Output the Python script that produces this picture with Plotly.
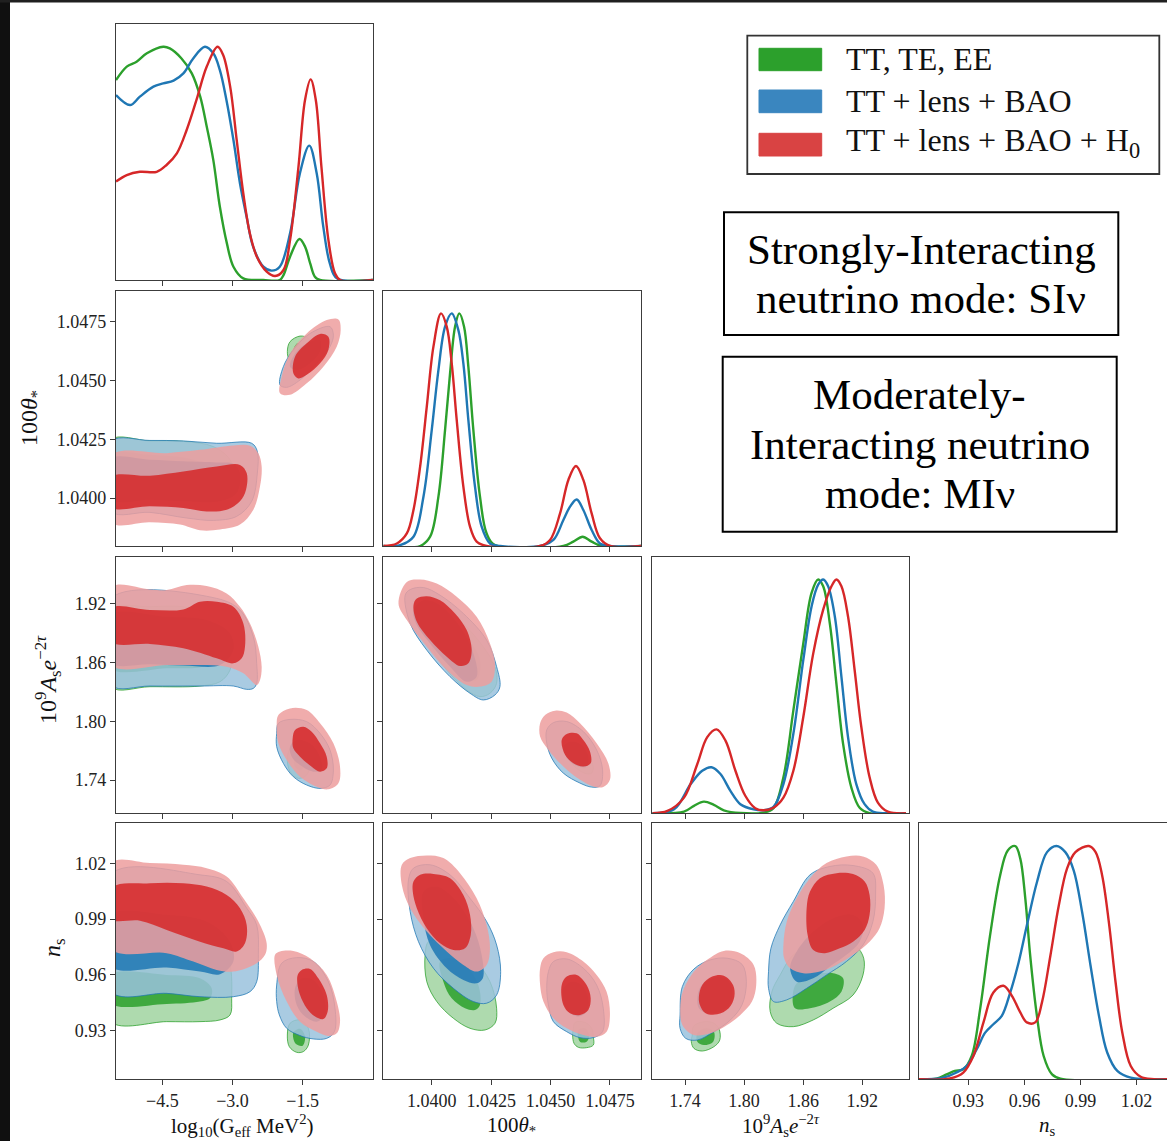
import plotly.graph_objects as go

W, H = 1167, 1141
SERIF = "Liberation Serif, Times New Roman, serif"
FRAME = "#3c3c3c"

SERIES_NAMES = ["TT, TE, EE", "TT + lens + BAO", "TT + lens + BAO + H<sub>0</sub>"]
SERIES_RGB = [(44, 160, 44), (31, 119, 180), (214, 39, 40)]
LEGEND_PATCH = ["#2ca02c", "#3a86bf", "#d94343"]
OUTLINE_W = [0.9, 0.9, 0.0]
PARAM_ORDER = ["G", "theta", "As", "ns"]

TICKS = {
    "G": ([-4.5, -3.0, -1.5], ["−4.5", "−3.0", "−1.5"]),
    "theta": ([1.04, 1.0425, 1.045, 1.0475], ["1.0400", "1.0425", "1.0450", "1.0475"]),
    "As": ([1.74, 1.80, 1.86, 1.92], ["1.74", "1.80", "1.86", "1.92"]),
    "ns": ([0.93, 0.96, 0.99, 1.02], ["0.93", "0.96", "0.99", "1.02"]),
}
AXIS_TITLES = {
    "G": "log<sub>10</sub>(G<sub>eff</sub> MeV<sup>2</sup>)",
    "theta": "100<i>θ</i><sub>*</sub>",
    "As": "10<sup>9</sup><i>A</i><sub>s</sub><i>e</i><sup>−2<i>τ</i></sup>",
    "ns": "<i>n</i><sub>s</sub>",
}

# ---------------- 1D marginal posteriors (normalised to peak = 1) ----------------
G_GREEN_X = [-5.49, -5.26, -5.05, -4.83, -4.48, -4.34, -4.09, -3.87, -3.69, -3.55, -3.41, -3.27, -3.12, -2.98, -2.77, -2.34, -1.99, -1.91, -1.77, -1.57, -1.45, -1.34, -1.24, -1.13, 0.0]
G_GREEN_Y = [0.857, 0.915, 0.936, 0.972, 1.0, 0.993, 0.95, 0.886, 0.786, 0.657, 0.514, 0.314, 0.157, 0.057, 0.007, 0.0, 0.0, 0.021, 0.1, 0.176, 0.143, 0.071, 0.014, 0.0, 0.0]
G_BLUE_X = [-5.49, -5.19, -4.98, -4.69, -4.48, -4.26, -4.05, -3.84, -3.59, -3.41, -3.27, -3.13, -2.98, -2.84, -2.70, -2.56, -2.34, -2.16, -1.99, -1.77, -1.56, -1.36, -1.20, -1.06, -0.92, -0.77, 0.0]
G_BLUE_Y = [0.793, 0.75, 0.786, 0.829, 0.843, 0.855, 0.886, 0.95, 1.0, 0.972, 0.9, 0.772, 0.6, 0.414, 0.272, 0.143, 0.057, 0.04, 0.057, 0.2, 0.457, 0.576, 0.457, 0.229, 0.071, 0.007, 0.0]
G_RED_X = [-5.49, -5.26, -4.98, -4.62, -4.41, -4.19, -3.98, -3.77, -3.55, -3.32, -3.20, -3.05, -2.91, -2.77, -2.63, -2.48, -2.27, -2.09, -1.91, -1.77, -1.59, -1.45, -1.33, -1.22, -1.10, -0.95, -0.81, -0.70, 0.0]
G_RED_Y = [0.422, 0.45, 0.464, 0.464, 0.493, 0.543, 0.643, 0.772, 0.915, 1.0, 0.965, 0.829, 0.6, 0.372, 0.2, 0.1, 0.036, 0.017, 0.043, 0.171, 0.486, 0.772, 0.86, 0.772, 0.486, 0.171, 0.029, 0.0, 0.0]

TH_RED_X = [1.03796, 1.03853, 1.03895, 1.03923, 1.03951, 1.03979, 1.04007, 1.04039, 1.04063, 1.04084, 1.04105, 1.04133, 1.04161, 1.04189, 1.04231, 1.04456, 1.04498, 1.04540, 1.04575, 1.04607, 1.04638, 1.04673, 1.04708, 1.04750, 1.04882]
TH_RED_Y = [0, 0.011, 0.054, 0.155, 0.341, 0.599, 0.857, 1.0, 0.943, 0.785, 0.542, 0.255, 0.083, 0.019, 0, 0, 0.026, 0.14, 0.284, 0.344, 0.284, 0.14, 0.033, 0, 0]
TH_BLUE_X = [1.03796, 1.03867, 1.03923, 1.03965, 1.04000, 1.04028, 1.04056, 1.04084, 1.04112, 1.04133, 1.04154, 1.04182, 1.04210, 1.04245, 1.04288, 1.04456, 1.04512, 1.04554, 1.04582, 1.04610, 1.04638, 1.04673, 1.04708, 1.04750, 1.04882]
TH_BLUE_Y = [0, 0.004, 0.04, 0.212, 0.499, 0.756, 0.943, 1.0, 0.928, 0.785, 0.542, 0.255, 0.083, 0.011, 0, 0, 0.026, 0.112, 0.169, 0.2, 0.155, 0.069, 0.011, 0, 0]
TH_GREEN_X = [1.03796, 1.03951, 1.03993, 1.04028, 1.04056, 1.04077, 1.04098, 1.04116, 1.04136, 1.04154, 1.04175, 1.04203, 1.04231, 1.04266, 1.04554, 1.04596, 1.04635, 1.04673, 1.04715, 1.04882]
TH_GREEN_Y = [0, 0, 0.04, 0.212, 0.499, 0.742, 0.943, 1.0, 0.943, 0.771, 0.499, 0.212, 0.054, 0.004, 0, 0.019, 0.04, 0.019, 0, 0]

AS_RED_X = [1.7071, 1.7222, 1.739, 1.7525, 1.7626, 1.772, 1.7811, 1.7912, 1.8012, 1.8113, 1.8197, 1.8298, 1.8399, 1.85, 1.8601, 1.8702, 1.8803, 1.8887, 1.8937, 1.8988, 1.9055, 1.9122, 1.919, 1.9274, 1.9358, 1.9459, 1.9644]
AS_RED_Y = [0, 0.01, 0.067, 0.211, 0.326, 0.359, 0.311, 0.182, 0.075, 0.022, 0.013, 0.024, 0.067, 0.182, 0.412, 0.684, 0.871, 0.971, 1.0, 0.971, 0.842, 0.613, 0.369, 0.154, 0.046, 0.007, 0]
AS_BLUE_X = [1.7071, 1.7289, 1.7458, 1.7575, 1.7669, 1.776, 1.7861, 1.7962, 1.8097, 1.8197, 1.8298, 1.8399, 1.85, 1.8601, 1.8685, 1.8752, 1.8803, 1.8853, 1.8921, 1.8988, 1.9055, 1.9139, 1.9223, 1.9307, 1.9442, 1.9644]
AS_BLUE_Y = [0, 0.017, 0.125, 0.182, 0.197, 0.168, 0.096, 0.039, 0.017, 0.013, 0.027, 0.125, 0.34, 0.656, 0.885, 0.978, 1.0, 0.971, 0.842, 0.584, 0.326, 0.125, 0.039, 0.007, 0, 0]
AS_GREEN_X = [1.7071, 1.739, 1.7491, 1.7592, 1.7693, 1.7794, 1.7962, 1.8197, 1.8298, 1.8399, 1.85, 1.8601, 1.8685, 1.8752, 1.8803, 1.887, 1.8937, 1.9005, 1.9089, 1.9173, 1.9274, 1.9644]
AS_GREEN_Y = [0, 0.007, 0.032, 0.05, 0.036, 0.013, 0.001, 0.003, 0.022, 0.154, 0.44, 0.727, 0.943, 1.0, 0.971, 0.813, 0.555, 0.297, 0.11, 0.024, 0.001, 0]

NS_GREEN_X = [0.9035, 0.913, 0.9184, 0.9228, 0.9273, 0.9318, 0.9363, 0.9416, 0.947, 0.9511, 0.9551, 0.9578, 0.9605, 0.9631, 0.9667, 0.9703, 0.9748, 0.9793, 1.0366]
NS_GREEN_Y = [0, 0.003, 0.021, 0.036, 0.043, 0.1, 0.301, 0.616, 0.874, 0.981, 1.0, 0.946, 0.774, 0.53, 0.272, 0.1, 0.021, 0.003, 0]
NS_BLUE_X = [0.9035, 0.9166, 0.9237, 0.9291, 0.9345, 0.939, 0.9434, 0.9479, 0.9524, 0.9569, 0.9613, 0.9667, 0.9721, 0.9771, 0.9819, 0.9864, 0.9909, 0.9954, 0.9999, 1.0043, 1.0097, 1.0169, 1.0366]
NS_BLUE_Y = [0, 0.007, 0.029, 0.057, 0.129, 0.2, 0.236, 0.272, 0.372, 0.501, 0.659, 0.845, 0.974, 1.0, 0.974, 0.895, 0.716, 0.487, 0.272, 0.115, 0.036, 0.007, 0]
NS_RED_X = [0.9035, 0.9202, 0.9273, 0.9327, 0.9381, 0.9434, 0.9488, 0.9533, 0.9578, 0.9613, 0.9658, 0.9694, 0.9739, 0.9784, 0.9828, 0.9873, 0.9945, 0.9981, 1.0016, 1.0052, 1.0088, 1.0124, 1.0169, 1.0222, 1.0294, 1.0366]
NS_RED_Y = [0, 0.004, 0.029, 0.1, 0.244, 0.372, 0.401, 0.358, 0.287, 0.244, 0.244, 0.33, 0.53, 0.745, 0.903, 0.974, 1.0, 0.974, 0.874, 0.673, 0.415, 0.2, 0.057, 0.011, 0.001, 0]

# ---------------- 2D contours (68% / 95%), each a list of islands of (x, y) ----------------
# theta (y) vs G (x)
TG_GREEN_95 = [
    [(-5.6, 1.04248), (-4.764, 1.04243), (-4.051, 1.04241), (-3.41, 1.04219), (-3.053, 1.04163), (-2.982, 1.04106), (-3.125, 1.04035), (-3.41, 1.04), (-3.98, 1.03993), (-4.764, 1.03993), (-5.6, 1.04)],
    [(-1.828, 1.04623), (-1.771, 1.04665), (-1.557, 1.04689), (-1.379, 1.04679), (-1.329, 1.04644), (-1.414, 1.04594), (-1.628, 1.04566), (-1.785, 1.04587)],
]
TG_GREEN_68 = [
    [(-5.6, 1.04184), (-4.764, 1.04184), (-3.837, 1.04163), (-3.41, 1.0412), (-3.481, 1.0405), (-4.051, 1.04021), (-4.764, 1.04021), (-5.6, 1.04021)],
    [(-1.7, 1.0463), (-1.6, 1.0466), (-1.5, 1.0464), (-1.5, 1.046), (-1.6, 1.0459)],
]
TG_BLUE_95 = [
    [(-5.6, 1.04241), (-4.764, 1.04245), (-4.051, 1.04243), (-3.338, 1.04233), (-2.59, 1.04233), (-2.469, 1.04198), (-2.469, 1.04106), (-2.59, 1.03986), (-2.911, 1.03922), (-3.41, 1.03905), (-3.98, 1.03915), (-4.764, 1.03939), (-5.6, 1.03943)],
    [(-1.985, 1.04481), (-1.913, 1.04559), (-1.70, 1.0463), (-1.343, 1.047), (-0.916, 1.04729), (-0.844, 1.04693), (-0.916, 1.04644), (-1.201, 1.04573), (-1.557, 1.04502), (-1.842, 1.04471)],
]
TG_BLUE_68 = [
    [(-5.6, 1.04166), (-4.764, 1.04163), (-4.051, 1.04156), (-3.338, 1.04151), (-2.982, 1.04146), (-2.84, 1.04106), (-2.911, 1.04021), (-3.267, 1.03986), (-4.051, 1.03986), (-4.764, 1.03993), (-5.6, 1.03993)],
    [(-1.771, 1.04559), (-1.628, 1.04623), (-1.343, 1.04665), (-1.129, 1.04672), (-1.129, 1.04623), (-1.343, 1.04573), (-1.593, 1.04545)],
]
TG_RED_95 = [
    [(-5.6, 1.04181), (-4.407, 1.04191), (-3.695, 1.04205), (-2.982, 1.04224), (-2.626, 1.04222), (-2.448, 1.04191), (-2.377, 1.04134), (-2.412, 1.0405), (-2.555, 1.0395), (-2.84, 1.03887), (-3.267, 1.03866), (-3.695, 1.03863), (-4.122, 1.03887), (-4.764, 1.03897), (-5.6, 1.03897)],
    [(-1.985, 1.04446), (-1.949, 1.04516), (-1.771, 1.04615), (-1.414, 1.047), (-0.987, 1.04757), (-0.737, 1.0476), (-0.688, 1.04715), (-0.773, 1.04644), (-1.058, 1.04559), (-1.414, 1.04488), (-1.771, 1.04439)],
]
TG_RED_68 = [
    [(-5.6, 1.04089), (-4.764, 1.04095), (-4.051, 1.04113), (-3.338, 1.04134), (-2.84, 1.04141), (-2.697, 1.04106), (-2.711, 1.04035), (-2.84, 1.03986), (-3.125, 1.0395), (-3.552, 1.03943), (-4.051, 1.03958), (-4.764, 1.03965), (-5.6, 1.03962)],
    [(-1.70, 1.04531), (-1.664, 1.04601), (-1.414, 1.04658), (-1.129, 1.04698), (-0.951, 1.04686), (-0.951, 1.0463), (-1.129, 1.04573), (-1.414, 1.04524), (-1.593, 1.04509)],
]

# As (y) vs G (x)
AG_GREEN_95 = [
    [(-5.6, 1.914), (-4.764, 1.9167), (-4.051, 1.9167), (-3.552, 1.9099), (-3.196, 1.8963), (-3.018, 1.8726), (-3.053, 1.8522), (-3.267, 1.8403), (-3.695, 1.8359), (-4.764, 1.8352), (-5.6, 1.8352)],
    [(-1.828, 1.7639), (-1.735, 1.7741), (-1.557, 1.7768), (-1.379, 1.7707), (-1.343, 1.7571), (-1.414, 1.7452), (-1.593, 1.7418), (-1.771, 1.7486)],
]
AG_GREEN_68 = [
    [(-5.6, 1.8963), (-4.407, 1.8963), (-3.552, 1.8895), (-3.338, 1.8726), (-3.552, 1.8573), (-4.407, 1.8539), (-5.6, 1.8539)],
    [(-1.65, 1.765), (-1.5, 1.768), (-1.43, 1.758), (-1.55, 1.75), (-1.68, 1.755)],
]
AG_BLUE_95 = [
    [(-5.6, 1.9252), (-3.338, 1.9252), (-2.84, 1.9133), (-2.555, 1.8861), (-2.483, 1.859), (-2.483, 1.8386), (-2.555, 1.8335), (-2.697, 1.8325), (-2.982, 1.8359), (-3.695, 1.8359), (-4.764, 1.8359), (-5.6, 1.8369)],
    [(-2.056, 1.7877), (-2.02, 1.7979), (-1.771, 1.8019), (-1.414, 1.7996), (-1.129, 1.7877), (-0.916, 1.7707), (-0.844, 1.7503), (-0.916, 1.735), (-1.129, 1.7316), (-1.414, 1.735), (-1.70, 1.7435), (-1.913, 1.7571), (-2.056, 1.7741)],
]
AG_BLUE_68 = [
    [(-5.6, 1.9082), (-4.407, 1.9065), (-3.552, 1.9031), (-3.053, 1.8895), (-2.982, 1.8726), (-3.267, 1.8573), (-4.051, 1.8569), (-4.764, 1.858), (-5.6, 1.8597)],
    [(-1.771, 1.7741), (-1.628, 1.7809), (-1.343, 1.7775), (-1.129, 1.7639), (-1.094, 1.7503), (-1.272, 1.7486), (-1.557, 1.7554), (-1.735, 1.7639)],
]
AG_RED_95 = [
    [(-5.6, 1.9364), (-4.764, 1.9344), (-4.407, 1.9337), (-3.98, 1.9388), (-3.552, 1.9378), (-3.125, 1.9303), (-2.84, 1.9167), (-2.626, 1.8997), (-2.448, 1.876), (-2.377, 1.8556), (-2.412, 1.842), (-2.483, 1.8369), (-2.768, 1.8488), (-3.125, 1.8556), (-3.695, 1.8573), (-4.407, 1.8573), (-5.6, 1.8573)],
    [(-2.056, 1.7962), (-2.02, 1.8063), (-1.771, 1.8131), (-1.414, 1.8114), (-1.129, 1.7979), (-0.844, 1.7775), (-0.702, 1.7537), (-0.737, 1.7367), (-0.951, 1.7306), (-1.201, 1.7333), (-1.557, 1.7435), (-1.842, 1.7605), (-2.02, 1.7775)],
]
AG_RED_68 = [
    [(-5.6, 1.915), (-4.764, 1.9133), (-4.051, 1.914), (-3.695, 1.9218), (-3.338, 1.9218), (-2.982, 1.9167), (-2.768, 1.8997), (-2.733, 1.876), (-2.804, 1.8641), (-2.982, 1.859), (-3.338, 1.8641), (-4.051, 1.8743), (-4.764, 1.8787), (-5.6, 1.8811)],
    [(-1.714, 1.7826), (-1.664, 1.7911), (-1.486, 1.7945), (-1.308, 1.7894), (-1.129, 1.7775), (-0.987, 1.7639), (-0.987, 1.752), (-1.129, 1.7486), (-1.308, 1.7537), (-1.557, 1.7639), (-1.70, 1.7724)],
]

# ns (y) vs G (x)
NG_GREEN_95 = [
    [(-5.6, 0.9758), (-4.407, 0.9758), (-3.695, 0.9752), (-3.196, 0.9726), (-3.053, 0.9654), (-3.018, 0.9474), (-3.053, 0.9385), (-3.267, 0.9358), (-3.695, 0.9349), (-4.407, 0.9349), (-5.6, 0.9349)],
    [(-1.828, 0.9277), (-1.771, 0.934), (-1.557, 0.9358), (-1.379, 0.9313), (-1.379, 0.9223), (-1.486, 0.9188), (-1.628, 0.9184), (-1.785, 0.9214)],
]
NG_GREEN_68 = [
    [(-5.6, 0.96), (-4.407, 0.96), (-3.695, 0.9582), (-3.445, 0.9528), (-3.481, 0.9474), (-3.695, 0.9457), (-4.407, 0.9444), (-5.6, 0.9448)],
    [(-1.7, 0.929), (-1.55, 0.931), (-1.45, 0.927), (-1.5, 0.922), (-1.65, 0.923)],
]
NG_BLUE_95 = [
    [(-5.6, 1.0142), (-3.695, 1.0138), (-3.125, 1.0102), (-2.697, 0.9959), (-2.483, 0.9869), (-2.448, 0.9708), (-2.483, 0.9564), (-2.626, 0.951), (-2.982, 0.9483), (-3.695, 0.9483), (-4.407, 0.9501), (-5.6, 0.951)],
    [(-2.056, 0.9546), (-1.949, 0.9663), (-1.628, 0.9693), (-1.272, 0.9672), (-0.951, 0.9564), (-0.809, 0.9421), (-0.823, 0.9295), (-0.987, 0.9259), (-1.272, 0.9256), (-1.557, 0.9274), (-1.842, 0.9313), (-1.999, 0.9385), (-2.056, 0.9457)],
]
NG_BLUE_68 = [
    [(-5.6, 0.9923), (-4.407, 0.9923), (-3.552, 0.9887), (-3.053, 0.9779), (-2.982, 0.9672), (-3.267, 0.9604), (-3.695, 0.9618), (-4.407, 0.964), (-5.6, 0.9645)],
    [(-1.664, 0.9528), (-1.521, 0.9582), (-1.272, 0.9573), (-1.058, 0.9492), (-1.023, 0.9385), (-1.201, 0.9349), (-1.45, 0.9376), (-1.628, 0.9439)],
]
NG_RED_95 = [
    [(-5.6, 1.0201), (-4.764, 1.0201), (-4.051, 1.0192), (-3.552, 1.0174), (-3.125, 1.0129), (-2.768, 1.0012), (-2.448, 0.9887), (-2.27, 0.977), (-2.305, 0.9708), (-2.483, 0.9663), (-2.982, 0.9618), (-3.338, 0.9627), (-3.837, 0.9672), (-4.407, 0.9717), (-5.6, 0.974)],
    [(-2.091, 0.9708), (-1.985, 0.9726), (-1.70, 0.9729), (-1.343, 0.969), (-0.987, 0.96), (-0.773, 0.9457), (-0.702, 0.9349), (-0.773, 0.9286), (-0.951, 0.9272), (-1.201, 0.9295), (-1.557, 0.9349), (-1.842, 0.9457), (-2.056, 0.96)],
]
NG_RED_68 = [
    [(-5.6, 1.0066), (-4.764, 1.0093), (-4.051, 1.0093), (-3.552, 1.0075), (-3.125, 1.003), (-2.84, 0.9959), (-2.697, 0.9869), (-2.733, 0.977), (-2.911, 0.9726), (-3.196, 0.9743), (-3.695, 0.9779), (-4.407, 0.9842), (-4.977, 0.9891), (-5.6, 0.9901)],
    [(-1.607, 0.96), (-1.521, 0.9627), (-1.343, 0.9632), (-1.165, 0.9582), (-0.987, 0.9492), (-0.966, 0.9403), (-1.058, 0.9363), (-1.236, 0.9376), (-1.414, 0.9421), (-1.557, 0.9492), (-1.614, 0.9555)],
]

# As (y) vs theta (x)
AT_GREEN_95 = [
    [(1.03979, 1.9132), (1.03993, 1.9217), (1.04049, 1.9183), (1.04133, 1.8997), (1.04217, 1.8759), (1.04266, 1.8556), (1.04273, 1.8386), (1.04245, 1.8285), (1.04203, 1.8251), (1.04147, 1.8319), (1.04063, 1.8522), (1.04007, 1.8725), (1.03979, 1.8963)],
    [(1.04582, 1.7641), (1.04596, 1.7715), (1.04631, 1.7725), (1.04659, 1.7641), (1.0468, 1.7539), (1.04673, 1.7471), (1.04652, 1.7464), (1.04617, 1.7505), (1.04589, 1.7573)],
]
AT_GREEN_68 = [
    [(1.04007, 1.9064), (1.04063, 1.9064), (1.04147, 1.8861), (1.04203, 1.8624), (1.04189, 1.842), (1.04133, 1.8454), (1.04063, 1.8658), (1.04014, 1.8861)],
    [(1.04603, 1.7641), (1.04631, 1.7658), (1.04652, 1.759), (1.04645, 1.7522), (1.04617, 1.7539)],
]
AT_BLUE_95 = [
    [(1.03888, 1.9285), (1.03909, 1.9342), (1.03965, 1.9363), (1.04035, 1.9285), (1.04133, 1.9098), (1.04231, 1.8827), (1.04273, 1.8556), (1.04287, 1.8353), (1.04266, 1.8268), (1.04217, 1.8217), (1.04161, 1.8285), (1.04077, 1.8454), (1.03979, 1.8725), (1.03909, 1.8997)],
    [(1.04484, 1.7912), (1.04512, 1.7986), (1.04568, 1.7997), (1.04638, 1.7895), (1.04694, 1.7708), (1.04719, 1.7505), (1.04708, 1.7342), (1.04673, 1.7329), (1.04624, 1.737), (1.04554, 1.7471), (1.04505, 1.7624), (1.04484, 1.7776)],
]
AT_BLUE_68 = [
    [(1.03923, 1.9132), (1.03965, 1.9234), (1.04035, 1.9183), (1.04119, 1.8963), (1.04175, 1.8692), (1.04189, 1.8454), (1.04147, 1.8403), (1.04077, 1.8556), (1.03993, 1.8793), (1.03937, 1.898)],
    [(1.04554, 1.7742), (1.04589, 1.7793), (1.04631, 1.7759), (1.04659, 1.7641), (1.04652, 1.7539), (1.04617, 1.7539), (1.04575, 1.7607)],
]
AT_RED_95 = [
    [(1.0386, 1.92), (1.03895, 1.942), (1.03951, 1.9444), (1.04021, 1.9403), (1.04105, 1.9268), (1.04189, 1.9064), (1.04245, 1.8793), (1.04266, 1.859), (1.04252, 1.8403), (1.04203, 1.8353), (1.04147, 1.8369), (1.04063, 1.8522), (1.03979, 1.8759), (1.03895, 1.9031)],
    [(1.04456, 1.798), (1.04477, 1.8064), (1.04519, 1.8108), (1.04568, 1.8088), (1.04624, 1.798), (1.04694, 1.7776), (1.04743, 1.7573), (1.0475, 1.7403), (1.04722, 1.7329), (1.0468, 1.7336), (1.04624, 1.7403), (1.04554, 1.7539), (1.04491, 1.7708), (1.04456, 1.7844)],
]
AT_RED_68 = [
    [(1.03923, 1.9183), (1.03937, 1.9251), (1.03979, 1.9275), (1.04035, 1.9234), (1.04098, 1.9098), (1.04147, 1.8929), (1.04168, 1.8725), (1.04154, 1.859), (1.04119, 1.8563), (1.04063, 1.8658), (1.03993, 1.8827), (1.03937, 1.9014)],
    [(1.04547, 1.781), (1.04568, 1.7871), (1.0461, 1.7878), (1.04638, 1.781), (1.04666, 1.7691), (1.04669, 1.7573), (1.04638, 1.7539), (1.04596, 1.7573), (1.04561, 1.7658)],
]

# ns (y) vs theta (x)
NT_GREEN_95 = [
    [(1.03972, 0.9708), (1.03986, 0.9779), (1.04035, 0.9788), (1.04105, 0.9752), (1.04175, 0.969), (1.04245, 0.9564), (1.04273, 0.9421), (1.04266, 0.934), (1.04224, 0.9304), (1.04161, 0.9313), (1.04091, 0.9367), (1.04021, 0.9457), (1.03979, 0.9564)],
    [(1.04596, 0.9313), (1.04603, 0.9345), (1.04645, 0.9345), (1.04673, 0.9313), (1.0468, 0.9268), (1.0468, 0.9223), (1.04652, 0.9209), (1.04617, 0.9211), (1.04599, 0.9232), (1.04593, 0.9277)],
]
NT_GREEN_68 = [
    [(1.04035, 0.9672), (1.04084, 0.969), (1.04147, 0.9645), (1.04196, 0.9546), (1.04203, 0.9439), (1.04182, 0.9412), (1.0414, 0.9421), (1.04084, 0.9474), (1.04049, 0.9564)],
    [(1.04617, 0.9304), (1.04645, 0.9313), (1.04663, 0.9277), (1.04652, 0.9241), (1.04624, 0.9241)],
]
NT_BLUE_95 = [
    [(1.03902, 1.0111), (1.03923, 1.0174), (1.03993, 1.0192), (1.04077, 1.0138), (1.04161, 1.0012), (1.04231, 0.9887), (1.04273, 0.9761), (1.0429, 0.9618), (1.04273, 0.9492), (1.04231, 0.9448), (1.04175, 0.9457), (1.04091, 0.9528), (1.04007, 0.9636), (1.03944, 0.9779), (1.03909, 0.9941)],
    [(1.04491, 0.9618), (1.04512, 0.9672), (1.04568, 0.9686), (1.04638, 0.9636), (1.04694, 0.9546), (1.04722, 0.9421), (1.04719, 0.9295), (1.0468, 0.9263), (1.04624, 0.9263), (1.04568, 0.9295), (1.04512, 0.9349), (1.04491, 0.9439), (1.04484, 0.9528)],
]
NT_BLUE_68 = [
    [(1.03965, 1.0048), (1.04021, 1.0075), (1.04105, 0.9995), (1.04175, 0.9851), (1.0421, 0.9708), (1.04215, 0.9582), (1.04189, 0.9555), (1.04133, 0.9573), (1.04063, 0.9636), (1.03993, 0.976), (1.03965, 0.9905)],
    [(1.04554, 0.9528), (1.04589, 0.9564), (1.04631, 0.9546), (1.04659, 0.9474), (1.04652, 0.9403), (1.04617, 0.9376), (1.04575, 0.9403), (1.04554, 0.9457)],
]
NT_RED_95 = [
    [(1.03874, 1.0192), (1.03909, 1.0228), (1.03979, 1.0242), (1.04049, 1.0228), (1.04119, 1.0147), (1.04189, 1.0012), (1.04231, 0.9869), (1.04245, 0.9743), (1.04231, 0.9654), (1.04189, 0.9618), (1.04133, 0.9654), (1.04063, 0.9726), (1.03979, 0.9833), (1.03909, 0.9959), (1.03874, 1.0084)],
    [(1.04456, 0.9636), (1.0447, 0.969), (1.04512, 0.9722), (1.04568, 0.9722), (1.04638, 0.9672), (1.04694, 0.96), (1.04736, 0.951), (1.0475, 0.9385), (1.04736, 0.9295), (1.04694, 0.9268), (1.04638, 0.9277), (1.04568, 0.9313), (1.04512, 0.9367), (1.0447, 0.9457), (1.04456, 0.9546)],
]
NT_RED_68 = [
    [(1.03923, 1.0102), (1.03951, 1.0138), (1.04007, 1.0143), (1.04077, 1.012), (1.04133, 1.003), (1.04161, 0.9923), (1.04164, 0.9815), (1.0414, 0.9743), (1.04091, 0.9734), (1.04035, 0.977), (1.03979, 0.9851), (1.03937, 0.9959), (1.0392, 1.0048)],
    [(1.04547, 0.9546), (1.04568, 0.9591), (1.0461, 0.96), (1.04652, 0.9546), (1.04669, 0.9474), (1.04659, 0.9412), (1.04624, 0.9385), (1.04582, 0.9394), (1.04554, 0.9439)],
]

# ns (y) vs As (x)
NA_GREEN_95 = [
    [(1.7474, 0.9277), (1.7484, 0.9322), (1.7558, 0.9345), (1.7676, 0.9345), (1.7743, 0.9313), (1.7753, 0.925), (1.7693, 0.9214), (1.7575, 0.9191), (1.7491, 0.9205), (1.7464, 0.9241)],
    [(1.8366, 0.96), (1.85, 0.9708), (1.8736, 0.977), (1.8971, 0.9783), (1.914, 0.9752), (1.9214, 0.969), (1.9207, 0.96), (1.9106, 0.9492), (1.8904, 0.9421), (1.8702, 0.9358), (1.85, 0.9322), (1.8332, 0.934), (1.8265, 0.9403), (1.8282, 0.951)],
]
NA_GREEN_68 = [
    [(1.7525, 0.9286), (1.7609, 0.9313), (1.7693, 0.9295), (1.7686, 0.9241), (1.7592, 0.9223), (1.7525, 0.9241)],
    [(1.8494, 0.9492), (1.8534, 0.9555), (1.8702, 0.96), (1.8904, 0.9609), (1.9005, 0.9582), (1.8988, 0.951), (1.8871, 0.9457), (1.8669, 0.9421), (1.8517, 0.9421)],
]
NA_BLUE_95 = [
    [(1.735, 0.9385), (1.7373, 0.9537), (1.7491, 0.9632), (1.7659, 0.9681), (1.7827, 0.969), (1.7979, 0.9657), (1.8023, 0.9564), (1.7979, 0.9439), (1.7861, 0.9358), (1.7693, 0.9295), (1.7525, 0.925), (1.7407, 0.9259), (1.735, 0.9313)],
    [(1.8248, 0.9618), (1.8272, 0.9743), (1.8366, 0.9869), (1.85, 0.9995), (1.8669, 1.0138), (1.8871, 1.0183), (1.9106, 1.0188), (1.9308, 1.0147), (1.9335, 1.003), (1.9308, 0.9887), (1.9207, 0.9761), (1.9039, 0.9672), (1.8837, 0.96), (1.8635, 0.9528), (1.8433, 0.9466), (1.8298, 0.9457), (1.8248, 0.9528)],
]
NA_BLUE_68 = [
    [(1.7525, 0.9474), (1.7558, 0.9537), (1.7676, 0.9582), (1.781, 0.9582), (1.7878, 0.9528), (1.7861, 0.9448), (1.776, 0.9403), (1.7625, 0.9394), (1.7541, 0.9421)],
    [(1.8467, 0.9636), (1.8534, 0.9726), (1.8702, 0.9833), (1.8904, 0.9905), (1.9106, 0.9923), (1.9207, 0.9869), (1.9173, 0.9779), (1.9039, 0.9708), (1.8871, 0.9645), (1.8702, 0.9582), (1.8534, 0.9564)],
]
NA_RED_95 = [
    [(1.7356, 0.9457), (1.739, 0.9528), (1.7491, 0.9618), (1.7625, 0.9681), (1.7794, 0.9729), (1.7962, 0.9717), (1.8097, 0.9654), (1.8123, 0.9546), (1.808, 0.9457), (1.7962, 0.9385), (1.7827, 0.9331), (1.7659, 0.9286), (1.7491, 0.9277), (1.7373, 0.9331)],
    [(1.8399, 0.9761), (1.8433, 0.9887), (1.8534, 1.0012), (1.8669, 1.012), (1.8837, 1.0201), (1.9039, 1.0237), (1.9207, 1.0237), (1.9342, 1.0192), (1.9416, 1.0084), (1.9426, 0.9959), (1.9375, 0.9851), (1.9274, 0.9779), (1.9106, 0.9708), (1.8938, 0.9654), (1.877, 0.9618), (1.8601, 0.9609), (1.8467, 0.9636), (1.8406, 0.969)],
]
NA_RED_68 = [
    [(1.7541, 0.9483), (1.7575, 0.9546), (1.7676, 0.9591), (1.7794, 0.9596), (1.7888, 0.9546), (1.7901, 0.9483), (1.7844, 0.9421), (1.7726, 0.9388), (1.7609, 0.9394), (1.7551, 0.9439)],
    [(1.8635, 0.9959), (1.8669, 1.0048), (1.877, 1.012), (1.8938, 1.0147), (1.9106, 1.0142), (1.9224, 1.0102), (1.9274, 1.003), (1.9274, 0.9923), (1.9224, 0.9842), (1.9106, 0.9779), (1.8971, 0.9743), (1.882, 0.9717), (1.8702, 0.9734), (1.8645, 0.9815)],
]

ONE_D = {
    "G": [(G_GREEN_X, G_GREEN_Y), (G_BLUE_X, G_BLUE_Y), (G_RED_X, G_RED_Y)],
    "theta": [(TH_GREEN_X, TH_GREEN_Y), (TH_BLUE_X, TH_BLUE_Y), (TH_RED_X, TH_RED_Y)],
    "As": [(AS_GREEN_X, AS_GREEN_Y), (AS_BLUE_X, AS_BLUE_Y), (AS_RED_X, AS_RED_Y)],
    "ns": [(NS_GREEN_X, NS_GREEN_Y), (NS_BLUE_X, NS_BLUE_Y), (NS_RED_X, NS_RED_Y)],
}
TWO_D = {
    ("G", "theta"): [(TG_GREEN_95, TG_GREEN_68), (TG_BLUE_95, TG_BLUE_68), (TG_RED_95, TG_RED_68)],
    ("G", "As"): [(AG_GREEN_95, AG_GREEN_68), (AG_BLUE_95, AG_BLUE_68), (AG_RED_95, AG_RED_68)],
    ("G", "ns"): [(NG_GREEN_95, NG_GREEN_68), (NG_BLUE_95, NG_BLUE_68), (NG_RED_95, NG_RED_68)],
    ("theta", "As"): [(AT_GREEN_95, AT_GREEN_68), (AT_BLUE_95, AT_BLUE_68), (AT_RED_95, AT_RED_68)],
    ("theta", "ns"): [(NT_GREEN_95, NT_GREEN_68), (NT_BLUE_95, NT_BLUE_68), (NT_RED_95, NT_RED_68)],
    ("As", "ns"): [(NA_GREEN_95, NA_GREEN_68), (NA_BLUE_95, NA_BLUE_68), (NA_RED_95, NA_RED_68)],
}

# ---------------- layout geometry (pixels) ----------------
COL_PX = [(116, 373.3), (383.3, 641.3), (651.7, 909.3), (919, 1167)]
ROW_PX = [(24, 280), (290.7, 546), (556.7, 813.3), (823.3, 1079.3)]
RANGES = {"G": [-5.49, 0.009], "theta": [1.03796, 1.04882], "As": [1.7062, 1.9677], "ns": [0.9039, 1.0415]}
NS_X_RANGE = [0.9036, 1.0363]
DIAG_TOP = 1.0976
ALPHA = 0.85


def rgba(rgb, a):
    return f"rgba({rgb[0]},{rgb[1]},{rgb[2]},{a})"


def lighten(rgb, t):
    return tuple(int(round(c + t * (255 - c))) for c in rgb)


AX = dict(showline=True, linecolor=FRAME, linewidth=1.3, mirror=True, ticks="outside",
          ticklen=5, tickwidth=1.2, tickcolor=FRAME, showgrid=False, zeroline=False,
          fixedrange=True, tickfont=dict(family=SERIF, size=18, color="#222"))

fig = go.Figure()
layout = {}
k = 0
for r in range(4):
    for c in range(r + 1):
        k += 1
        xs = "x" if k == 1 else f"x{k}"
        ys = "y" if k == 1 else f"y{k}"
        xa = "xaxis" if k == 1 else f"xaxis{k}"
        ya = "yaxis" if k == 1 else f"yaxis{k}"
        pxn, pyn = PARAM_ORDER[c], PARAM_ORDER[r]
        x0, x1 = COL_PX[c]
        y0, y1 = ROW_PX[r]
        xr = NS_X_RANGE if pxn == "ns" else RANGES[pxn]
        tv, tt = TICKS[pxn]
        layout[xa] = dict(AX, domain=[x0 / W, x1 / W], range=xr, anchor=ys,
                          tickvals=tv, ticktext=tt, showticklabels=(r == 3))
        ydom = [1 - y1 / H, 1 - y0 / H]
        if r == c:
            layout[ya] = dict(AX, domain=ydom, range=[0, DIAG_TOP], anchor=xs, ticks="",
                              showticklabels=False, mirror=(c != 3))
            for i, (xv, yv) in enumerate(ONE_D[pxn]):
                fig.add_trace(go.Scatter(x=xv, y=yv, mode="lines",
                                         line=dict(color=rgba(SERIES_RGB[i], 1), width=2.4, shape="spline"),
                                         xaxis=xs, yaxis=ys, hoverinfo="skip", showlegend=False))
        else:
            tvy, tty = TICKS[pyn]
            layout[ya] = dict(AX, domain=ydom, range=RANGES[pyn], anchor=xs,
                              tickvals=tvy, ticktext=tty, showticklabels=(c == 0))
            for i, (c95, c68) in enumerate(TWO_D[(pxn, pyn)]):
                rgb = SERIES_RGB[i]
                light = lighten(rgb, 0.55)
                for poly in c95:
                    pts = poly + [poly[0]]
                    fig.add_trace(go.Scatter(x=[p[0] for p in pts], y=[p[1] for p in pts], mode="lines",
                                             fill="toself", fillcolor=rgba(light, ALPHA),
                                             line=dict(color=rgba(rgb, 0.85), width=OUTLINE_W[i], shape="spline"),
                                             xaxis=xs, yaxis=ys, hoverinfo="skip", showlegend=False))
                for poly in c68:
                    pts = poly + [poly[0]]
                    fig.add_trace(go.Scatter(x=[p[0] for p in pts], y=[p[1] for p in pts], mode="lines",
                                             fill="toself", fillcolor=rgba(rgb, ALPHA),
                                             line=dict(color=rgba(rgb, 0), width=0, shape="spline"),
                                             xaxis=xs, yaxis=ys, hoverinfo="skip", showlegend=False))

shapes = []
annotations = []


def pxx(v):
    return v / W


def pyy(v):
    return 1 - v / H


# screenshot border artefacts
shapes.append(dict(type="rect", xref="paper", yref="paper", x0=0, x1=pxx(10), y0=0, y1=1,
                   fillcolor="#101010", line=dict(width=0), layer="above"))
shapes.append(dict(type="rect", xref="paper", yref="paper", x0=0, x1=1, y0=pyy(2.5), y1=1,
                   fillcolor="#202020", line=dict(width=0), layer="above"))

# axis titles
XT_POS = [(242.5, 1125), (511, 1125.5), (781, 1125.5), (1047, 1125.5)]
for name, (ax_, ay_) in zip(PARAM_ORDER, XT_POS):
    annotations.append(dict(text=AXIS_TITLES[name], xref="paper", yref="paper", x=pxx(ax_), y=pyy(ay_),
                            xanchor="center", yanchor="middle", showarrow=False,
                            font=dict(family=SERIF, size=21, color="#111")))
YT_POS = [(31, 418), (48, 680), (54, 948)]
for name, (ax_, ay_) in zip(PARAM_ORDER[1:], YT_POS):
    annotations.append(dict(text=AXIS_TITLES[name], xref="paper", yref="paper", x=pxx(ax_), y=pyy(ay_),
                            xanchor="center", yanchor="middle", showarrow=False, textangle=-90,
                            font=dict(family=SERIF, size=24, color="#111")))

# legend box
shapes.append(dict(type="rect", xref="paper", yref="paper", x0=pxx(747.3), x1=pxx(1159.3),
                   y0=pyy(174), y1=pyy(35.7), line=dict(color="#333", width=1.8), fillcolor="white"))
PATCH_Y = [(48.3, 70.7), (90, 112.7), (133.3, 156)]
TEXT_Y = [59, 101, 143]
for i in range(3):
    shapes.append(dict(type="rect", xref="paper", yref="paper", x0=pxx(759), x1=pxx(821.7),
                       y0=pyy(PATCH_Y[i][1]), y1=pyy(PATCH_Y[i][0]),
                       fillcolor=LEGEND_PATCH[i], line=dict(color=LEGEND_PATCH[i], width=1)))
    annotations.append(dict(text=SERIES_NAMES[i], xref="paper", yref="paper", x=pxx(844), y=pyy(TEXT_Y[i]),
                            xanchor="left", yanchor="middle", showarrow=False,
                            font=dict(family=SERIF, size=32, color="#111")))

# mode boxes
BOXES = [
    ((724, 212.3, 1118.3, 335), ["Strongly-Interacting", "neutrino mode: SIν"], [249, 298]),
    ((722.7, 356.7, 1116.7, 531.7), ["Moderately-", "Interacting neutrino", "mode: MIν"], [394, 445, 493]),
]
for (bx0, by0, bx1, by1), lines, ycs in BOXES:
    shapes.append(dict(type="rect", xref="paper", yref="paper", x0=pxx(bx0), x1=pxx(bx1),
                       y0=pyy(by1), y1=pyy(by0), line=dict(color="black", width=2), fillcolor="white"))
    xc = (bx0 + bx1) / 2
    for txt, yc in zip(lines, ycs):
        annotations.append(dict(text=txt, xref="paper", yref="paper", x=pxx(xc), y=pyy(yc),
                                xanchor="center", yanchor="middle", showarrow=False,
                                font=dict(family=SERIF, size=43, color="black")))

fig.update_layout(width=W, height=H, margin=dict(l=0, r=0, t=0, b=0),
                  paper_bgcolor="white", plot_bgcolor="white", showlegend=False,
                  shapes=shapes, annotations=annotations, hovermode=False, **layout)

fig.write_html("out.html", config={"displayModeBar": False})
